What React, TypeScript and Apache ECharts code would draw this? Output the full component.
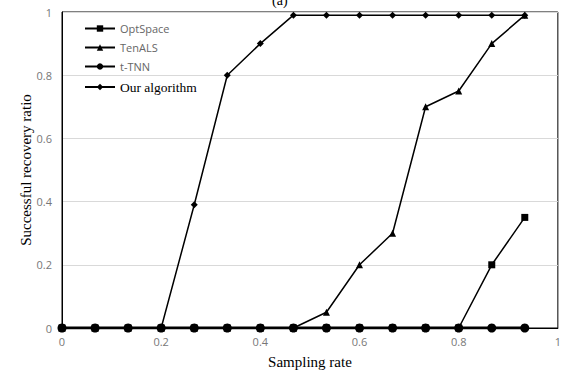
import React, { useEffect, useRef } from "react";
import * as echarts from "echarts";

const samplingRates = [0, 0.0667, 0.1333, 0.2, 0.2667, 0.3333, 0.4, 0.4667, 0.5333, 0.6, 0.6667, 0.7333, 0.8, 0.8667, 0.9333];
const optSpace = [0, 0, 0, 0, 0, 0, 0, 0, 0, 0, 0, 0, 0, 0.2, 0.35];
const tenALS = [0, 0, 0, 0, 0, 0, 0, 0, 0.05, 0.2, 0.3, 0.7, 0.75, 0.9, 0.99];
const tTNN = [0, 0, 0, 0, 0, 0, 0, 0, 0, 0, 0, 0, 0, 0, 0];
const ourAlgorithm = [0, 0, 0, 0, 0.39, 0.8, 0.9, 0.99, 0.99, 0.99, 0.99, 0.99, 0.99, 0.99, 0.99];
const seriesNames = ["OptSpace", "TenALS", "t-TNN", "Our algorithm"];

const pairs = (ys: number[]) => samplingRates.map((x, i) => [x, ys[i]]);

export default function App() {
  const ref = useRef<HTMLDivElement>(null);
  useEffect(() => {
    if (!ref.current) return;
    const chart = echarts.init(ref.current, undefined, { renderer: "svg" });
    const line = { color: "#000", width: 1.5 };
    const sans = { color: "#666", fontFamily: "'Open Sans', sans-serif", fontSize: 11 };
    chart.setOption({
      animation: false,
      backgroundColor: "#fff",
      grid: { left: 62, right: 4, top: 12, bottom: 48, show: true, borderColor: "#000", borderWidth: 1 },
      graphic: [
        { type: "text", left: 272, top: -7, style: { text: "(a)", font: "14px 'Liberation Serif', serif", fill: "#000" } },
      ],
      legend: {
        left: 79,
        top: 18,
        orient: "vertical",
        itemGap: 8,
        itemWidth: 30,
        itemHeight: 8,
        data: [
          { name: "OptSpace", textStyle: sans },
          { name: "TenALS", textStyle: sans },
          { name: "t-TNN", textStyle: sans },
          { name: "Our algorithm", textStyle: { color: "#000", fontFamily: "'Liberation Serif', serif", fontSize: 13.5 } },
        ],
      },
      xAxis: {
        type: "value",
        min: 0,
        max: 1,
        interval: 0.2,
        name: "Sampling rate",
        nameLocation: "middle",
        nameGap: 26,
        nameTextStyle: { fontFamily: "'Liberation Serif', serif", fontSize: 15, color: "#000" },
        axisLine: { lineStyle: { color: "#000" } },
        axisTick: { show: false },
        axisLabel: { color: "#777", fontFamily: "'Open Sans', sans-serif", fontSize: 11, margin: 8 },
        splitLine: { show: false },
      },
      yAxis: {
        type: "value",
        min: 0,
        max: 1,
        interval: 0.2,
        name: "Successful recovery ratio",
        nameLocation: "middle",
        nameGap: 29,
        nameMoveOverlap: false,
        nameTextStyle: { fontFamily: "'Liberation Serif', serif", fontSize: 15, color: "#000" },
        axisLine: { show: true, lineStyle: { color: "#000" } },
        axisTick: { show: false },
        axisLabel: { color: "#777", fontFamily: "'Open Sans', sans-serif", fontSize: 11, margin: 10 },
        splitLine: { lineStyle: { color: "#d9d9d9" } },
      },
      series: [
        { name: seriesNames[0], type: "line", data: pairs(optSpace), symbol: "rect", symbolSize: 7, lineStyle: line, itemStyle: { color: "#000" } },
        { name: seriesNames[1], type: "line", data: pairs(tenALS), symbol: "triangle", symbolSize: 7, lineStyle: line, itemStyle: { color: "#000" } },
        { name: seriesNames[2], type: "line", data: pairs(tTNN), symbol: "circle", symbolSize: 9, lineStyle: { color: "#000", width: 3 }, itemStyle: { color: "#000" } },
        { name: seriesNames[3], type: "line", data: pairs(ourAlgorithm), symbol: "diamond", symbolSize: 7, lineStyle: line, itemStyle: { color: "#000" } },
      ],
    });
    return () => chart.dispose();
  }, []);
  return <div ref={ref} style={{ width: 564, height: 376, position: "absolute", left: 0, top: 0 }} />;
}
